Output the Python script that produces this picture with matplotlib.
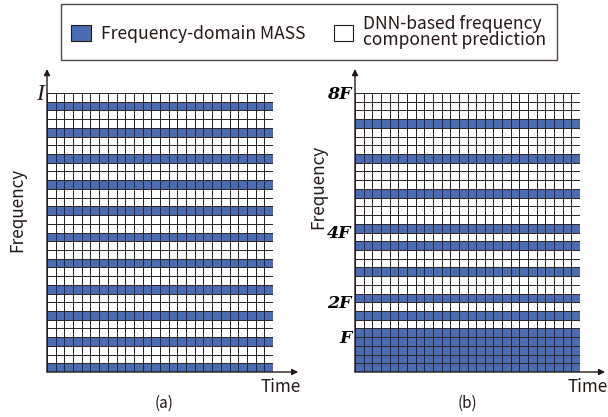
import numpy as np
import matplotlib.pyplot as plt
from matplotlib.colors import ListedColormap
from matplotlib.patches import Patch

plt.rcParams['font.family'] = ['Noto Sans CJK SC', 'DejaVu Sans']

# grid size (time frames x frequency bins)
n_time = 26
n_freq = 32

# frequency rows (counted from the bottom) handled by frequency-domain MASS
mass_rows_a = list(range(0, n_freq, 3))
mass_rows_b = [0, 1, 2, 3, 4, 6, 8, 11, 14, 16, 20, 24, 28]

ticks_a = [32]
ticklabels_a = ['I']
ticks_b = [4, 8, 16, 32]
ticklabels_b = ['F', '2F', '4F', '8F']

legend_labels = ['Frequency-domain MASS', 'DNN-based frequency\ncomponent prediction']

BLUE = '#4a6cb5'
INK = '#231815'
GRIDC = '#2e2626'

fig = plt.figure(figsize=(6.08, 4.17), dpi=100)
W, H = 608, 417


def px_axes(x0, x1, y0, y1):
    return fig.add_axes([x0 / W, 1 - y1 / H, (x1 - x0) / W, (y1 - y0) / H])


def draw_panel(ax, rows, ticks, ticklabels, tickfont, ylab_pos, tag, tag_x):
    grid = np.zeros((n_freq, n_time))
    grid[rows, :] = 1
    ax.pcolormesh(np.arange(n_time + 1), np.arange(n_freq + 1), grid,
                  cmap=ListedColormap(['white', BLUE]), vmin=0, vmax=1,
                  edgecolors=GRIDC, linewidth=0.72)
    ax.set_xlim(0, n_time)
    ax.set_ylim(0, n_freq)
    ax.axis('off')

    arrow = dict(arrowstyle='-|>', color=INK, lw=1.0, mutation_scale=9,
                 shrinkA=0, shrinkB=0)
    ax.annotate('', xy=(0, n_freq + 2.75), xytext=(0, 0),
                arrowprops=arrow, annotation_clip=False)
    ax.annotate('', xy=(n_time + 2.9, 0), xytext=(0, 0),
                arrowprops=arrow, annotation_clip=False)

    for t, lab in zip(ticks, ticklabels):
        ax.text(-0.4, t - 0.15, lab, ha='right', va='center', **tickfont)

    ax.text(ylab_pos[0], ylab_pos[1], 'Frequency', rotation=90,
            ha='center', va='center', fontsize=12.3, color=INK)
    ax.text(n_time + 0.85, -1.75, 'Time', ha='center', va='center',
            fontsize=12.3, color=INK)
    ax.text(tag_x, -3.6, tag, ha='center', va='center',
            fontsize=11, color=INK)


ax_a = px_axes(47, 273, 93, 372)
draw_panel(ax_a, mass_rows_a, ticks_a, ticklabels_a,
           dict(family='Liberation Serif', style='italic', fontsize=17, color=INK),
           (-3.45, 18.6), '(a)', 13.5)

ax_b = px_axes(355, 580, 93, 372)
draw_panel(ax_b, mass_rows_b, ticks_b, ticklabels_b,
           dict(family='DejaVu Serif', style='italic', weight='bold', fontsize=12.5, color='black'),
           (-4.3, 21.2), '(b)', 13.0)

handles = [Patch(facecolor=BLUE, edgecolor=INK, linewidth=0.8),
           Patch(facecolor='white', edgecolor=INK, linewidth=0.8)]
leg = fig.legend(handles, legend_labels, loc='center',
                 bbox_to_anchor=(309 / W, 1 - 32 / H), ncol=2,
                 frameon=True, fancybox=False, edgecolor=INK,
                 handlelength=1.1, handleheight=1.1, handletextpad=0.6,
                 columnspacing=1.6, borderpad=0.62, borderaxespad=0,
                 fontsize=12.6, labelspacing=0.2)
leg.get_frame().set_linewidth(1.0)
for txt in leg.get_texts():
    txt.set_color(INK)
    txt.set_linespacing(0.92)

fig.savefig('out.png', dpi=100)
